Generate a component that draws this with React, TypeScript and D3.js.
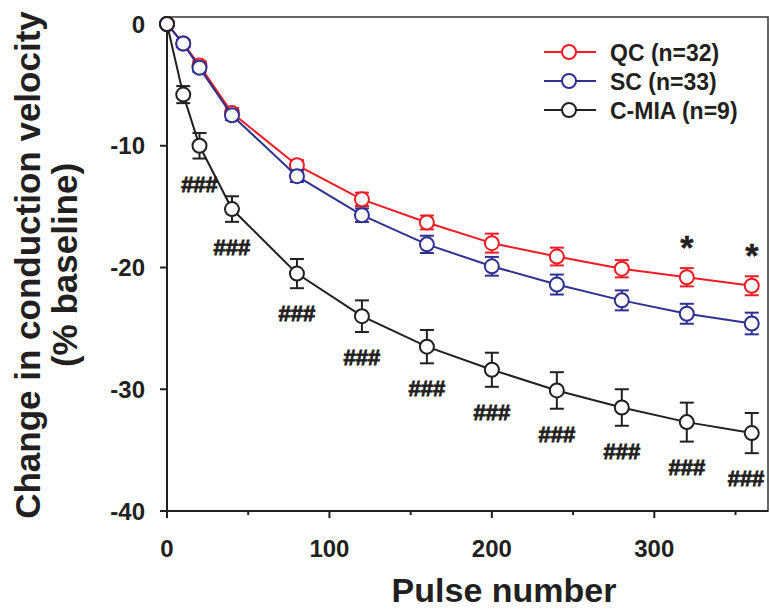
import React, { useEffect, useRef } from 'react';
import * as d3 from 'd3';

// pulse numbers at which velocity was sampled
const pulses = [0, 10, 20, 40, 80, 120, 160, 200, 240, 280, 320, 360];

// mean change (% baseline) and SEM per group
const qcMean = [0, -1.6, -3.4, -7.3, -11.6, -14.4, -16.3, -18.0, -19.1, -20.1, -20.8, -21.5];
const qcSem = [0, 0.3, 0.35, 0.4, 0.42, 0.55, 0.57, 0.78, 0.73, 0.71, 0.75, 0.78];

const scMean = [0, -1.6, -3.6, -7.5, -12.5, -15.7, -18.1, -19.9, -21.4, -22.7, -23.8, -24.6];
const scSem = [0, 0.3, 0.35, 0.4, 0.48, 0.56, 0.71, 0.77, 0.82, 0.82, 0.82, 0.89];

const cmiaMean = [0, -5.8, -10.0, -15.2, -20.5, -24.0, -26.5, -28.4, -30.1, -31.5, -32.7, -33.6];
const cmiaSem = [0, 0.7, 1.05, 1.05, 1.2, 1.3, 1.37, 1.4, 1.5, 1.5, 1.6, 1.65];

const groupNames = ['QC (n=32)', 'SC (n=33)', 'C-MIA (n=9)'];
const groupColors = ['#ee1c25', '#2e3192', '#231f20'];

// significance marks
const hashPulses = [20, 40, 80, 120, 160, 200, 240, 280, 320, 360]; // C-MIA vs controls
const starPulses = [320, 360]; // QC vs SC

const xTicks = [0, 100, 200, 300];
const xMinorTicks = [50, 150, 250, 350];
const yTicks = [0, -10, -20, -30, -40];

const FONT = '"Liberation Sans", Arial, Helvetica, sans-serif';

const App = () => {
  const ref = useRef(null);

  useEffect(() => {
    const svg = d3.select(ref.current);
    svg.selectAll('*').remove();

    const x = d3.scaleLinear().domain([0, 370]).range([167, 768]);
    const y = d3.scaleLinear().domain([-40, 0.575]).range([511, 17]);
    const ink = '#231f20';

    // frame (top/right)
    svg
      .append('rect')
      .attr('x', x(0))
      .attr('y', y(0.575))
      .attr('width', x(370) - x(0))
      .attr('height', y(-40) - y(0.575))
      .attr('fill', 'none')
      .attr('stroke', '#333')
      .attr('stroke-width', 1.5);

    // x axis
    const xAxis = svg.append('g').attr('transform', `translate(0,${y(-40)})`);
    xAxis
      .append('line')
      .attr('x1', x(0))
      .attr('x2', x(370))
      .attr('stroke', ink)
      .attr('stroke-width', 2);
    xAxis
      .selectAll('.maj')
      .data(xTicks)
      .enter()
      .append('line')
      .attr('x1', (d) => x(d))
      .attr('x2', (d) => x(d))
      .attr('y1', 0)
      .attr('y2', 7)
      .attr('stroke', ink)
      .attr('stroke-width', 2);
    xAxis
      .selectAll('.minor')
      .data(xMinorTicks)
      .enter()
      .append('line')
      .attr('x1', (d) => x(d))
      .attr('x2', (d) => x(d))
      .attr('y1', 0)
      .attr('y2', 4)
      .attr('stroke', ink)
      .attr('stroke-width', 2);
    xAxis
      .selectAll('text')
      .data(xTicks)
      .enter()
      .append('text')
      .attr('x', (d) => x(d))
      .attr('y', 46)
      .attr('text-anchor', 'middle')
      .text((d) => d);

    // y axis
    const yAxis = svg.append('g').attr('transform', `translate(${x(0)},0)`);
    yAxis
      .append('line')
      .attr('y1', y(0.575))
      .attr('y2', y(-40))
      .attr('stroke', ink)
      .attr('stroke-width', 2);
    yAxis
      .selectAll('line.t')
      .data(yTicks)
      .enter()
      .append('line')
      .attr('class', 't')
      .attr('x1', -7)
      .attr('x2', 0)
      .attr('y1', (d) => y(d))
      .attr('y2', (d) => y(d))
      .attr('stroke', ink)
      .attr('stroke-width', 2);
    yAxis
      .selectAll('text')
      .data(yTicks)
      .enter()
      .append('text')
      .attr('x', -22)
      .attr('y', (d) => y(d) + 8.5)
      .attr('text-anchor', 'end')
      .text((d) => d);

    svg
      .selectAll('g text')
      .attr('font-family', FONT)
      .attr('font-weight', 'bold')
      .attr('font-size', 24)
      .attr('fill', ink);

    // axis titles
    svg
      .append('text')
      .attr('x', 504)
      .attr('y', 602)
      .attr('text-anchor', 'middle')
      .attr('font-family', FONT)
      .attr('font-weight', 'bold')
      .attr('font-size', 34)
      .attr('fill', ink)
      .text('Pulse number');

    const yTitle = svg
      .append('text')
      .attr('transform', 'translate(40,265) rotate(-90)')
      .attr('text-anchor', 'middle')
      .attr('font-family', FONT)
      .attr('font-weight', 'bold')
      .attr('font-size', 35)
      .attr('fill', ink);
    yTitle.append('tspan').attr('x', 0).attr('y', 0).text('Change in conduction velocity');
    yTitle.append('tspan').attr('x', 0).attr('y', 37).text('(% baseline)');

    // series
    const series = [
      { mean: qcMean, sem: qcSem },
      { mean: scMean, sem: scSem },
      { mean: cmiaMean, sem: cmiaSem },
    ];
    const line = d3
      .line<number>()
      .x((d, i) => x(pulses[i]))
      .y((d) => y(d));

    series.forEach((s, k) => {
      const color = groupColors[k];
      const g = svg.append('g');
      g.append('path')
        .attr('d', line(s.mean))
        .attr('fill', 'none')
        .attr('stroke', color)
        .attr('stroke-width', 2);

      const pts = pulses.map((p, i) => ({ p, m: s.mean[i], e: s.sem[i] }));
      const eb = g.selectAll('.eb').data(pts.filter((d) => d.e > 0)).enter().append('g');
      eb.append('line')
        .attr('x1', (d) => x(d.p))
        .attr('x2', (d) => x(d.p))
        .attr('y1', (d) => y(d.m + d.e))
        .attr('y2', (d) => y(d.m - d.e));
      [1, -1].forEach((sgn) => {
        eb.append('line')
          .attr('x1', (d) => x(d.p) - 7)
          .attr('x2', (d) => x(d.p) + 7)
          .attr('y1', (d) => y(d.m + sgn * d.e))
          .attr('y2', (d) => y(d.m + sgn * d.e));
      });
      eb.selectAll('line').attr('stroke', color).attr('stroke-width', 2);

      g.selectAll('circle')
        .data(pts)
        .enter()
        .append('circle')
        .attr('cx', (d) => x(d.p))
        .attr('cy', (d) => y(d.m))
        .attr('r', 7)
        .attr('fill', 'white')
        .attr('stroke', color)
        .attr('stroke-width', 2);
    });

    // ### under C-MIA points
    svg
      .selectAll('.hash')
      .data(hashPulses)
      .enter()
      .append('text')
      .attr('x', (p) => Math.min(x(p), 746))
      .attr('y', (p) => {
        const i = pulses.indexOf(p);
        return y(cmiaMean[i] - cmiaSem[i]) + 33;
      })
      .attr('text-anchor', 'middle')
      .attr('font-family', FONT)
      .attr('font-weight', 'bold')
      .attr('font-size', 22)
      .attr('fill', ink)
      .attr('stroke', ink)
      .attr('stroke-width', 0.9)
      .text('###');

    // * above QC points
    svg
      .selectAll('.star')
      .data(starPulses)
      .enter()
      .append('text')
      .attr('x', (p) => x(p))
      .attr('y', (p) => {
        const i = pulses.indexOf(p);
        return y(qcMean[i] + qcSem[i]) - 9;
      })
      .attr('text-anchor', 'middle')
      .attr('font-family', FONT)
      .attr('font-weight', 'bold')
      .attr('font-size', 34)
      .attr('fill', ink)
      .attr('stroke', ink)
      .attr('stroke-width', 0.5)
      .text('*');

    // legend
    const legend = svg
      .selectAll('.leg')
      .data(groupNames)
      .enter()
      .append('g')
      .attr('transform', (d, i) => `translate(544,${52 + i * 29})`);
    legend
      .append('line')
      .attr('x1', 0)
      .attr('x2', 52)
      .attr('stroke', (d, i) => groupColors[i])
      .attr('stroke-width', 2);
    legend
      .append('circle')
      .attr('cx', 25)
      .attr('r', 7)
      .attr('fill', 'white')
      .attr('stroke', (d, i) => groupColors[i])
      .attr('stroke-width', 2);
    legend
      .append('text')
      .attr('x', 66)
      .attr('y', 8.5)
      .attr('font-family', FONT)
      .attr('font-weight', 'bold')
      .attr('font-size', 23)
      .attr('fill', ink)
      .text((d) => d);
  }, []);

  return (
    <svg
      ref={ref}
      width={770}
      height={610}
      style={{ position: 'absolute', left: 0, top: 0, background: 'white' }}
    />
  );
};

export default App;
